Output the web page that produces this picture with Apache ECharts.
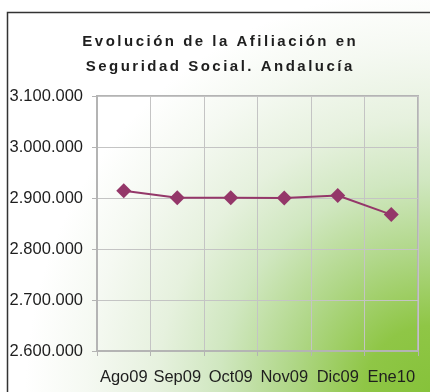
<!DOCTYPE html>
<html>
<head>
<meta charset="utf-8">
<script src="https://cdn.jsdelivr.net/npm/echarts@6/dist/echarts.min.js"></script>
<style>
  html, body { margin: 0; padding: 0; background: #ffffff; }
  #chart { width: 430px; height: 392px; }
</style>
</head>
<body>
<div id="chart"></div>
<script>
// Afiliados a la Seguridad Social en Andalucía, agosto 2009 - enero 2010
const titleText = 'Evolución de la Afiliación en\nSeguridad Social. Andalucía';
const months = ['Ago09', 'Sep09', 'Oct09', 'Nov09', 'Dic09', 'Ene10'];
const afiliados = [2914000, 2900500, 2900500, 2900000, 2905000, 2867500];
const yMin = 2600000;
const yMax = 3100000;
const yStep = 100000;

// Wide tracking for the heading: six-per-em spaces between letters
function tracked(s) {
  return s.split('\n').map(line => line.split('').join('\u2006')).join('\n');
}

// Thousands separated with dots (es-ES style)
function miles(v) {
  return String(Math.round(v)).replace(/\B(?=(\d{3})+(?!\d))/g, '.');
}

const chart = echarts.init(document.getElementById('chart'), null, { renderer: 'canvas' });

const fondo = {
  type: 'radial', global: true, x: 430, y: 392, r: 440,
  colorStops: [
    { offset: 0.00, color: '#86c23a' },
    { offset: 0.15, color: '#8fc646' },
    { offset: 0.32, color: '#b0d788' },
    { offset: 0.48, color: '#d0e7c0' },
    { offset: 0.62, color: '#e6f1de' },
    { offset: 0.78, color: '#f5f9f2' },
    { offset: 0.92, color: '#ffffff' },
    { offset: 1.00, color: '#ffffff' }
  ]
};

chart.setOption({
  animation: false,
  backgroundColor: fondo,
  textStyle: { fontFamily: 'Liberation Sans, Arial, sans-serif' },
  title: {
    text: tracked(titleText),
    left: 219,
    top: 29,
    textAlign: 'center',
    padding: 0,
    textStyle: {
      fontSize: 15,
      fontWeight: 'bold',
      color: '#1e1e1e',
      lineHeight: 25,
      fontFamily: 'Liberation Sans, Arial, sans-serif'
    }
  },
  graphic: [{
    type: 'rect',
    shape: { x: 7.5, y: 12.5, width: 600, height: 600 },
    style: { fill: 'none', stroke: '#333333', lineWidth: 1.5 },
    silent: true,
    z: 100
  }],
  grid: {
    left: 97, top: 96, width: 321, height: 255,
    show: true,
    backgroundColor: 'transparent',
    borderColor: '#b4b4b4',
    borderWidth: 2
  },
  xAxis: {
    type: 'category',
    data: months,
    boundaryGap: true,
    axisLine: { show: true, lineStyle: { color: '#b4b4b4', width: 2 } },
    axisTick: { show: true, length: 5, alignWithLabel: false, lineStyle: { color: '#b4b4b4', width: 1 } },
    splitLine: { show: true, lineStyle: { color: '#c4c4c4', width: 1 } },
    axisLabel: { color: '#1e1e1e', fontSize: 16.5, margin: 18, interval: 0 }
  },
  yAxis: {
    type: 'value',
    min: yMin,
    max: yMax,
    interval: yStep,
    axisLine: { show: true, lineStyle: { color: '#b4b4b4', width: 2 } },
    axisTick: { show: true, length: 5, lineStyle: { color: '#b4b4b4', width: 1 } },
    splitLine: { show: true, lineStyle: { color: '#c4c4c4', width: 1 } },
    axisLabel: { color: '#1e1e1e', fontSize: 16.5, margin: 14, formatter: miles }
  },
  series: [{
    type: 'line',
    data: afiliados,
    symbol: 'diamond',
    symbolSize: 15,
    lineStyle: { color: '#943769', width: 2 },
    itemStyle: { color: '#943769' },
    z: 10
  }]
});
</script>
</body>
</html>
